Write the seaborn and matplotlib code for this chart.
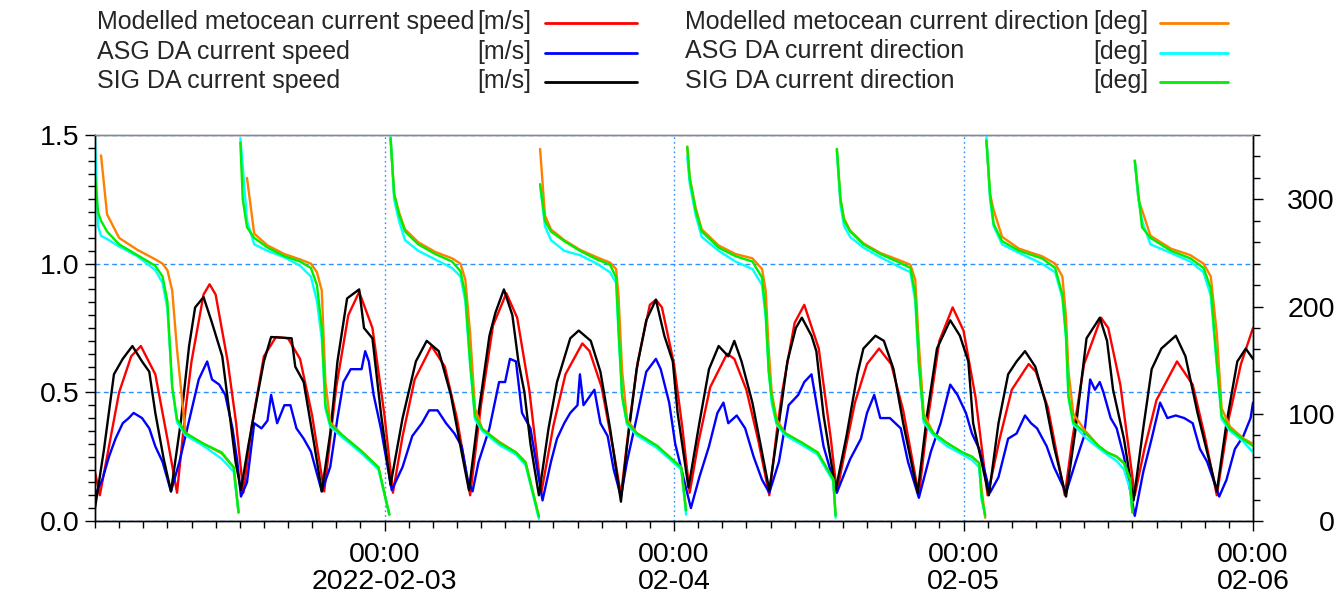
import matplotlib
matplotlib.use("Agg")
import matplotlib.pyplot as plt
import matplotlib.dates as mdates
from matplotlib.lines import Line2D
from matplotlib.ticker import MultipleLocator
import numpy as np
import pandas as pd
import seaborn as sns

start = pd.Timestamp("2022-02-02 00:00")
end = pd.Timestamp("2022-02-06 00:00")

# current speed [m/s], hours after 2022-02-02 00:00
metocean_speed_hours = [0, 0.4, 1, 2, 3, 3.8, 5, 6, 6.8, 7.5, 8, 9, 9.5, 10, 11, 11.7, 12.3, 13, 14, 15, 16, 17, 18, 19,
                        20, 21, 21.9, 23, 24, 24.7, 25.5, 26.5, 27.9, 29, 30, 31.1, 32, 33, 34.1, 35, 36, 37, 38, 39,
                        40.4, 41, 42, 43, 43.6, 44.3, 45, 46, 46.5, 47, 48, 48.7, 49.3, 50, 51, 52.4, 53, 54, 55, 55.9,
                        56.5, 57, 58, 58.8, 60, 61, 61.5, 62, 63, 64, 65, 66, 67, 68.3, 69, 70, 71.1, 72, 73, 74, 75,
                        76, 77.4, 78, 79, 80.4, 81, 82, 83.4, 84, 85, 86.2, 87, 88, 89.7, 91, 92, 93, 94, 95, 96]
metocean_speed = [0.19, 0.10, 0.25, 0.50, 0.64, 0.68, 0.57, 0.32, 0.11, 0.43, 0.62, 0.88, 0.92, 0.88, 0.62, 0.38, 0.11,
                  0.37, 0.64, 0.715, 0.71, 0.63, 0.41, 0.115, 0.52, 0.80, 0.89, 0.75, 0.41, 0.11, 0.33, 0.55, 0.68,
                  0.60, 0.40, 0.10, 0.45, 0.76, 0.885, 0.79, 0.51, 0.11, 0.37, 0.57, 0.69, 0.66, 0.52, 0.27, 0.10,
                  0.38, 0.62, 0.84, 0.86, 0.83, 0.61, 0.36, 0.11, 0.30, 0.52, 0.65, 0.63, 0.51, 0.31, 0.10, 0.34,
                  0.51, 0.77, 0.84, 0.67, 0.32, 0.11, 0.23, 0.46, 0.61, 0.67, 0.61, 0.43, 0.10, 0.38, 0.70, 0.83,
                  0.74, 0.48, 0.10, 0.32, 0.51, 0.61, 0.58, 0.44, 0.10, 0.31, 0.61, 0.79, 0.75, 0.53, 0.10, 0.28,
                  0.47, 0.62, 0.53, 0.33, 0.10, 0.40, 0.61, 0.75]

asg_speed_hours = [0, 0.6, 1.16, 1.7, 2.3, 2.8, 3.2, 3.9, 4.5, 5.0, 5.6, 6.3, 7.0, 7.5, 8.1, 8.6, 9.3, 9.7, 10.3, 10.8,
                   11.4, 11.8, 12.1, 12.6, 13.2, 13.8, 14.3, 14.6, 15.1, 15.7, 16.2, 16.7, 17.3, 17.9, 18.8, 19.5,
                   20.1, 20.6, 21.2, 21.7, 22.1, 22.4, 22.7, 23.1, 23.7, 24.6, 25.5, 26.3, 27.1, 27.7, 28.4, 29.1,
                   29.8, 30.4, 30.9, 31.3, 31.8, 32.7, 33.5, 34.0, 34.4, 34.9, 35.4, 36.1, 37.1, 37.8, 38.3, 38.9,
                   39.4, 40.0, 40.2, 40.5, 41.4, 41.9, 42.5, 43.0, 43.6, 44.1, 44.9, 45.7, 46.5, 46.9, 47.6, 48.1,
                   49.4, 50.1, 50.9, 51.6, 52.1, 52.5, 53.2, 53.9, 54.6, 55.3, 55.9, 56.7, 57.5, 58.3, 58.8, 59.4,
                   59.8, 60.4, 61.5, 62.6, 63.5, 64.0, 64.6, 65.1, 65.9, 66.8, 67.4, 68.3, 69.3, 70.1, 70.9, 71.5,
                   72.2, 72.7, 73.3, 74.2, 74.9, 75.7, 76.4, 77.1, 77.6, 78.1, 78.9, 79.5, 80.5, 81.3, 82.0, 82.5,
                   82.9, 83.3, 83.6, 84.2, 84.7, 85.3, 86.2, 86.9, 87.6, 88.3, 88.9, 89.6, 90.3, 91.0, 91.6, 92.2,
                   93.2, 93.8, 94.5, 95.2, 95.8, 96.0]
asg_speed = [0.10, 0.16, 0.25, 0.32, 0.38, 0.40, 0.42, 0.40, 0.36, 0.29, 0.23, 0.115, 0.23, 0.33, 0.45, 0.55, 0.62,
             0.55, 0.53, 0.49, 0.36, 0.23, 0.095, 0.15, 0.38, 0.36, 0.39, 0.49, 0.38, 0.45, 0.45, 0.36, 0.32, 0.27,
             0.115, 0.21, 0.40, 0.54, 0.59, 0.59, 0.59, 0.66, 0.62, 0.49, 0.36, 0.12, 0.21, 0.33, 0.38, 0.43, 0.43,
             0.38, 0.34, 0.29, 0.16, 0.115, 0.23, 0.36, 0.54, 0.54, 0.63, 0.62, 0.42, 0.36, 0.08, 0.23, 0.32, 0.38,
             0.42, 0.45, 0.57, 0.45, 0.51, 0.38, 0.33, 0.20, 0.095, 0.23, 0.40, 0.58, 0.63, 0.59, 0.46, 0.30, 0.05,
             0.17, 0.29, 0.42, 0.46, 0.38, 0.41, 0.36, 0.25, 0.16, 0.11, 0.23, 0.45, 0.49, 0.54, 0.57, 0.46, 0.29,
             0.11, 0.24, 0.32, 0.42, 0.49, 0.40, 0.40, 0.36, 0.23, 0.09, 0.27, 0.38, 0.53, 0.49, 0.42, 0.34, 0.28,
             0.11, 0.17, 0.32, 0.34, 0.41, 0.38, 0.36, 0.29, 0.21, 0.11, 0.23, 0.33, 0.55, 0.51, 0.54, 0.50, 0.40,
             0.36, 0.25, 0.02, 0.19, 0.32, 0.46, 0.40, 0.41, 0.40, 0.38, 0.28, 0.23, 0.095, 0.16, 0.28, 0.33, 0.40,
             0.46]

sig_speed_hours = [0, 0.75, 1.57, 2.3, 3.1, 3.9, 4.5, 5.0, 5.7, 6.3, 7.1, 7.8, 8.3, 9.0, 9.7, 10.55, 11.2, 11.65, 12.1,
                   12.7, 13.4, 14.0, 14.6, 16.3, 16.6, 17.3, 18.2, 18.8, 19.5, 20.1, 20.9, 21.9, 22.3, 23.0, 23.7,
                   24.5, 25.5, 26.6, 27.5, 28.5, 29.5, 30.3, 31.0, 31.8, 32.7, 33.2, 33.9, 34.6, 35.1, 35.6, 36.1,
                   36.8, 37.6, 38.3, 39.4, 40.1, 41.1, 41.9, 42.7, 43.6, 44.1, 44.9, 45.7, 46.5, 47.2, 47.9, 48.3,
                   49.2, 50.1, 50.9, 51.7, 52.5, 53.0, 53.6, 54.5, 55.2, 55.9, 56.7, 57.4, 58.1, 58.6, 59.4, 59.8,
                   60.4, 61.4, 62.3, 63.2, 63.7, 64.7, 65.4, 66.2, 67.0, 68.2, 69.0, 69.8, 70.9, 71.7, 72.4, 72.8,
                   74.1, 74.9, 75.7, 76.4, 77.1, 77.95, 78.8, 79.5, 80.5, 81.3, 82.2, 83.3, 83.9, 84.4, 85.3, 86.1,
                   86.9, 87.6, 88.4, 89.6, 90.4, 91.4, 93.0, 93.8, 94.7, 95.4, 96.0]
sig_speed = [0.05, 0.28, 0.57, 0.63, 0.68, 0.62, 0.58, 0.42, 0.24, 0.115, 0.38, 0.68, 0.83, 0.87, 0.77, 0.64, 0.40,
             0.23, 0.12, 0.29, 0.47, 0.62, 0.715, 0.71, 0.60, 0.54, 0.29, 0.115, 0.34, 0.62, 0.865, 0.90, 0.75, 0.71,
             0.42, 0.14, 0.40, 0.62, 0.70, 0.66, 0.49, 0.29, 0.12, 0.42, 0.72, 0.81, 0.90, 0.80, 0.62, 0.50, 0.30,
             0.10, 0.36, 0.54, 0.71, 0.74, 0.70, 0.58, 0.36, 0.075, 0.29, 0.59, 0.78, 0.86, 0.72, 0.62, 0.42, 0.13,
             0.38, 0.59, 0.68, 0.64, 0.70, 0.62, 0.46, 0.29, 0.12, 0.38, 0.62, 0.75, 0.79, 0.72, 0.66, 0.41, 0.12,
             0.33, 0.57, 0.67, 0.72, 0.70, 0.59, 0.38, 0.11, 0.42, 0.67, 0.78, 0.72, 0.62, 0.38, 0.10, 0.38, 0.57,
             0.62, 0.66, 0.60, 0.46, 0.29, 0.095, 0.36, 0.71, 0.79, 0.70, 0.51, 0.32, 0.08, 0.36, 0.59, 0.67, 0.72,
             0.64, 0.42, 0.115, 0.38, 0.62, 0.67, 0.63]

# current direction [deg], shared sample hours
dir_hours = [0.0, 0.25, 0.5, 1.0, 2.0, 3.5, 5.0, 5.6, 6.0, 6.4, 6.8, 7.5, 9.0, 10.5, 11.5, 11.9,
             12.05, 12.25, 12.6, 13.2, 14.3, 15.7, 17.0, 17.9, 18.4, 18.8, 19.1, 19.5, 20.5, 22.0, 23.5, 24.4,
             24.5, 24.8, 25.2, 25.7, 26.8, 28.2, 29.6, 30.3, 30.7, 31.1, 31.5, 32.1, 33.5, 34.9, 35.7, 36.8,
             36.9, 37.3, 37.8, 38.9, 40.2, 41.6, 42.7, 43.2, 43.4, 43.7, 44.1, 44.9, 46.6, 47.9, 48.6, 49.0,
             49.1, 49.3, 49.8, 50.3, 51.7, 53.1, 54.5, 55.3, 55.6, 55.85, 56.1, 56.5, 57.2, 58.6, 59.9, 61.2, 61.4,
             61.5, 61.8, 62.1, 62.6, 63.7, 65.1, 66.5, 67.6, 68.0, 68.3, 68.7, 69.5, 70.6, 71.9, 72.7, 73.3, 73.5,
             73.8,
             73.9, 74.2, 74.5, 75.2, 76.6, 78.5, 79.6, 80.2, 80.5, 80.7, 81.1, 82.1, 83.2, 83.9, 84.7, 85.3, 85.8,
             86.0,
             86.2, 86.5, 86.8, 87.5, 89.2, 90.8, 91.9, 92.5, 93.0, 93.4, 94.1, 95.2, 96.0]
metocean_dir = [np.nan, np.nan, 341, 286, 264, 253, 244, 240, 234, 215, 160, 82, 72, 63, 50, 8,
                np.nan, np.nan, 320, 268, 257, 249, 244, 240, 232, 215, 130, 92, 80, 66, 50, 6,
                357, 305, 288, 272, 260, 251, 245, 240, 225, 175, 105, 86, 74, 64, 55, 4,
                347, 285, 272, 262, 253, 246, 241, 235, 210, 140, 95, 82, 70, 57, 50, 10,
                349, 320, 292, 272, 257, 249, 245, 235, 215, 160, 120, 95, 82, 73, 64, 39, 5,
                347, 300, 282, 271, 259, 250, 244, 239, 225, 165, 100, 82, 73, 64, 60, 54, 30, 3,
                355, 305, 290, 265, 254, 247, 240, 228, 190, 140, 100, 84, 70, 64, 60, 54, 39, 8,
                336, 300, 290, 266, 254, 248, 240, 228, 175, 105, 88, 77, 72]
asg_dir = [358, 275, 266, 263, 256, 247, 234, 222, 198, 125, 92, 80, 70, 58, 46, 8,
           357, 330, 280, 258, 252, 246, 238, 228, 205, 170, 105, 88, 78, 64, 48, 6,
           360, 300, 280, 262, 252, 244, 236, 228, 205, 145, 95, 84, 71, 62, 52, 2,
           314, 275, 262, 252, 248, 240, 232, 222, 175, 115, 90, 80, 68, 55, 48, 6,
           340, 315, 285, 265, 252, 242, 235, 220, 190, 140, 110, 90, 80, 71, 62, 37, 3,
           345, 295, 275, 265, 255, 246, 238, 232, 205, 145, 92, 80, 70, 62, 57, 50, 20, 5,
           358, 300, 275, 258, 250, 240, 232, 208, 170, 115, 90, 78, 68, 62, 56, 48, 30, 10,
           336, 300, 280, 258, 250, 242, 232, 210, 145, 95, 84, 74, 64]
sig_dir = [322, 288, 280, 270, 258, 248, 238, 228, 205, 125, 95, 82, 72, 64, 50, 8,
           353, 300, 274, 264, 255, 247, 242, 236, 220, 180, 108, 90, 80, 66, 50, 6,
           357, 305, 286, 270, 258, 249, 242, 233, 211, 148, 98, 86, 73, 64, 54, 4,
           314, 280, 270, 261, 252, 244, 239, 227, 180, 117, 92, 82, 70, 57, 50, 10,
           349, 320, 289, 270, 255, 247, 242, 227, 195, 140, 115, 92, 82, 73, 64, 39, 5,
           347, 300, 280, 270, 258, 249, 242, 236, 211, 148, 95, 82, 73, 64, 60, 54, 23, 5,
           355, 305, 277, 261, 252, 245, 236, 211, 173, 117, 92, 82, 70, 64, 60, 54, 39, 8,
           336, 305, 274, 264, 252, 245, 236, 217, 148, 98, 86, 76, 70]

speed_series = [
    ("Modelled metocean current speed", metocean_speed_hours, metocean_speed, "#ff0000"),
    ("ASG DA current speed", asg_speed_hours, asg_speed, "#0000ff"),
    ("SIG DA current speed", sig_speed_hours, sig_speed, "#000000"),
]
dir_series = [
    ("Modelled metocean current direction", metocean_dir, "#ff8000"),
    ("ASG DA current direction", asg_dir, "#00ffff"),
    ("SIG DA current direction", sig_dir, "#00ee00"),
]
x_tick_days = ["2022-02-03", "2022-02-04", "2022-02-05", "2022-02-06"]
x_tick_labels = ["00:00\n2022-02-03", "00:00\n02-04", "00:00\n02-05", "00:00\n02-06"]


def to_time(hours):
    return start + pd.to_timedelta(hours, unit="h")


def direction_segments(hours, values):
    v = np.asarray(values, dtype=float)
    df = pd.DataFrame({"time": to_time(hours), "value": v})
    # new piece of line where direction wraps past 0/360 or data is missing
    wrap = np.abs(np.diff(v, prepend=v[0])) > 180
    df["seg"] = np.cumsum(wrap | np.isnan(v))
    return df.dropna()


sns.set_style("ticks")
plt.rcParams["font.family"] = ["Liberation Sans", "DejaVu Sans"]

fig = plt.figure(figsize=(13.41, 6.08), dpi=100)
ax = fig.add_axes([95 / 1341, 1 - 521 / 608, 1158 / 1341, 386 / 608])
ax2 = ax.twinx()

for name, hours, vals, color in speed_series:
    sns.lineplot(x=to_time(hours), y=vals, color=color, lw=1.7, ax=ax)

for name, vals, color in dir_series:
    seg = direction_segments(dir_hours, vals)
    sns.lineplot(data=seg, x="time", y="value", units="seg", estimator=None,
                 color=color, lw=1.7, ax=ax2, legend=False)

grid_col = "#2f8fff"
ax.set_xlim(start, end)
ax.set_ylim(0, 1.5)
ax2.set_ylim(0, 360)
for a in (ax, ax2):
    a.set_xlabel("")
    a.set_ylabel("")

ax.set_xticks(mdates.date2num(pd.to_datetime(x_tick_days)), x_tick_labels, linespacing=1.05)
ax.xaxis.set_minor_locator(mdates.HourLocator(byhour=range(0, 24, 2)))
ax.set_yticks([0, 0.5, 1.0, 1.5], ["0.0", "0.5", "1.0", "1.5"])
ax.yaxis.set_minor_locator(MultipleLocator(0.05))
ax2.set_yticks([0, 100, 200, 300], ["0", "100", "200", "300"], ha="right")
ax2.yaxis.set_minor_locator(MultipleLocator(20))

ax.grid(axis="y", which="major", color=grid_col, lw=1.0, linestyle=(0, (3.5, 2.5)))
ax.grid(axis="x", which="major", color=grid_col, lw=1.0, linestyle=(0, (1.2, 2.2)))

tick_font = 20.5
ax.tick_params(axis="both", which="major", length=7, width=1, color="black",
               labelsize=tick_font, labelcolor="black")
ax.tick_params(axis="both", which="minor", length=5, width=1, color="black")
ax.tick_params(axis="x", which="major", pad=8)
ax.tick_params(axis="y", which="major", pad=4)
ax2.tick_params(axis="y", which="major", length=7, width=1, color="black",
                labelsize=tick_font, labelcolor="black", pad=52)
ax2.tick_params(axis="y", which="minor", length=5, width=1, color="black")

for a in (ax, ax2):
    for side in ("left", "right", "bottom"):
        a.spines[side].set_color("black")
        a.spines[side].set_linewidth(1)
    a.spines["top"].set_color("#888888")
    a.spines["top"].set_linewidth(1)

# legend drawn above the plot, units right-aligned before the line sample
legend_font = 18
cols = [(97, 531, 545, 637, speed_series, "[m/s]"), (685, 1148, 1160, 1228, dir_series, "[deg]")]
for lx, ux, l0, l1, series, unit in cols:
    for i, s in enumerate(series):
        name, color = s[0], s[-1]
        y = 1 - (22 + 29.5 * i) / 608
        fig.text(lx / 1341, y, name, fontsize=legend_font, va="center", ha="left")
        fig.text(ux / 1341, y, unit, fontsize=legend_font, va="center", ha="right")
        fig.add_artist(Line2D([l0 / 1341, l1 / 1341], [y - 1 / 608, y - 1 / 608], color=color, lw=2,
                              transform=fig.transFigure))

fig.savefig("out.png", dpi=100)
